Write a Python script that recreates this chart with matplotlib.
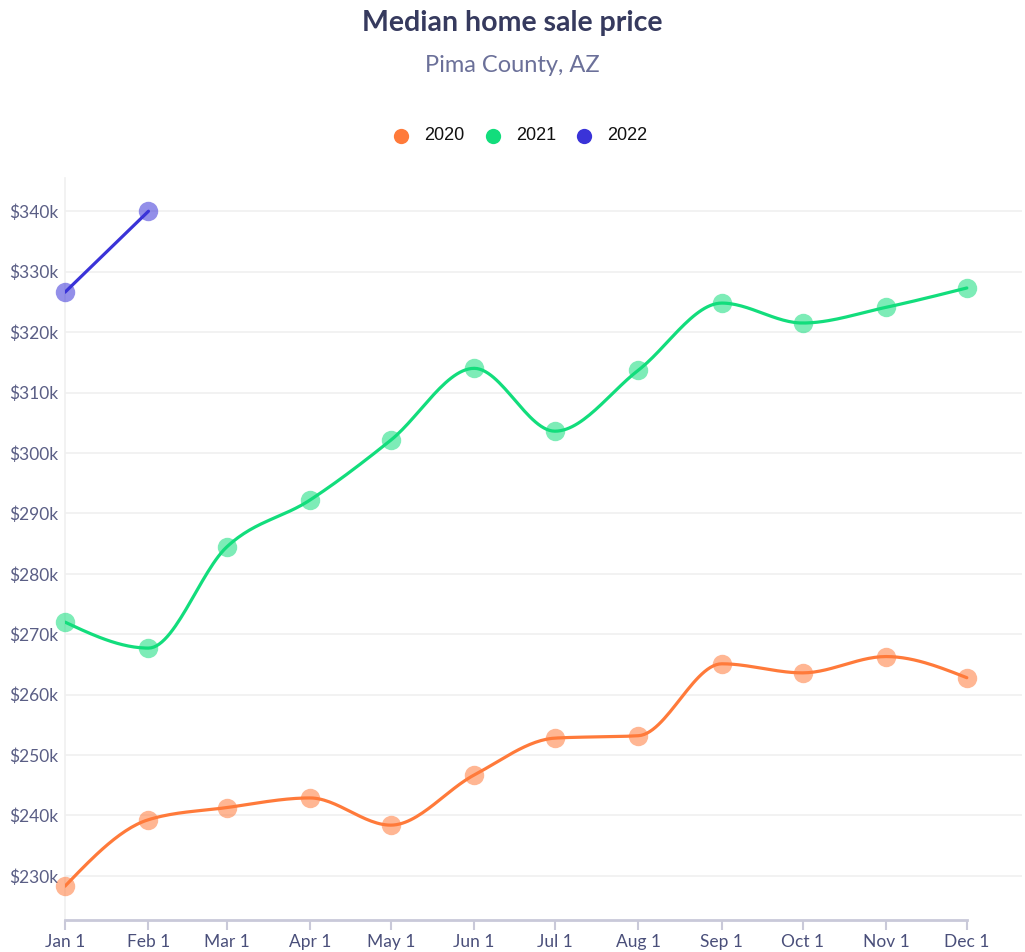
import matplotlib
matplotlib.use('Agg')
import matplotlib.pyplot as plt
import matplotlib.dates as mdates
import numpy as np
import datetime as dt


# chart data (median sale price, in $k)
months = ['Jan 1', 'Feb 1', 'Mar 1', 'Apr 1', 'May 1', 'Jun 1',
          'Jul 1', 'Aug 1', 'Sep 1', 'Oct 1', 'Nov 1', 'Dec 1']
price_2020 = [228.3, 239.3, 241.3, 242.9, 238.4, 246.7,
              252.8, 253.2, 265.1, 263.6, 266.3, 262.8]
price_2021 = [272.0, 267.7, 284.4, 292.2, 302.1, 314.0,
              303.6, 313.7, 324.8, 321.5, 324.1, 327.3]
price_2022 = [326.6, 340.0]
y_ticks = [230, 240, 250, 260, 270, 280, 290, 300, 310, 320, 330, 340]

colors = {'2020': '#ff7a3a', '2021': '#12dd7c', '2022': '#3a33d8'}


# monotone cubic curve through the points (like d3 curveMonotoneX)
def monotone(x, y, n=30):
    x = np.asarray(x, float)
    y = np.asarray(y, float)
    if len(x) < 3:
        return x, y
    h = np.diff(x)
    s = np.diff(y) / h
    m = np.zeros(len(x))
    for i in range(1, len(x) - 1):
        if s[i - 1] * s[i] <= 0:
            m[i] = 0
        else:
            p = (s[i - 1] * h[i] + s[i] * h[i - 1]) / (h[i - 1] + h[i])
            m[i] = np.sign(s[i - 1]) * min(abs(s[i - 1]), abs(s[i]), 0.5 * abs(p)) * 2
    m[0] = (3 * s[0] - m[1]) / 2
    m[-1] = (3 * s[-1] - m[-2]) / 2
    xs, ys = [], []
    for i in range(len(x) - 1):
        t = np.linspace(0, 1, n)
        h00 = 2 * t**3 - 3 * t**2 + 1
        h10 = t**3 - 2 * t**2 + t
        h01 = -2 * t**3 + 3 * t**2
        h11 = t**3 - t**2
        xs.extend(x[i] + t * h[i])
        ys.extend(h00 * y[i] + h10 * h[i] * m[i] + h01 * y[i + 1] + h11 * h[i] * m[i + 1])
    return np.array(xs), np.array(ys)


dates = [dt.date(2020, i + 1, 1) for i in range(12)]
xnum = mdates.date2num(dates)

fig = plt.figure(figsize=(10.25, 9.52), dpi=100)
ax = fig.add_axes([65 / 1025, 1 - 920 / 952, (1022 - 65) / 1025, (920 - 178) / 952])

series = [('2020', price_2020), ('2021', price_2021), ('2022', price_2022)]
for name, vals in series:
    xs, ys = monotone(xnum[:len(vals)], vals)
    ax.plot(xs, ys, color=colors[name], lw=2.3, zorder=3, solid_capstyle='round')
    ax.plot(xnum[:len(vals)], vals, 'o', color=colors[name], alpha=0.55,
            ms=14, mec='none', zorder=4, clip_on=False)

ax.set_xlim(xnum[0], xnum[0] + 355.5)
ax.set_ylim(222.7, 345.5)

ax.set_yticks(y_ticks)
ax.set_yticklabels(['$' + str(v) + 'k' for v in y_ticks])
ax.set_xticks(xnum)
ax.set_xticklabels(months)

ax.grid(axis='y', color='#f0f0f0', lw=1.2)
ax.set_axisbelow(True)

for side in ['top', 'right']:
    ax.spines[side].set_visible(False)
ax.spines['left'].set_color('#f0f0f0')
ax.spines['left'].set_linewidth(1.2)
ax.spines['bottom'].set_color('#c9c9d9')
ax.spines['bottom'].set_linewidth(2)
ax.spines['bottom'].set_bounds(xnum[0], xnum[-1])

ax.tick_params(axis='y', length=0, pad=5, labelsize=12.5, labelcolor='#5a5e85')
ax.tick_params(axis='x', length=7, width=1.5, color='#c9c9d9', pad=3,
               labelsize=12.5, labelcolor='#4a4f7a')
for lbl in ax.get_xticklabels() + ax.get_yticklabels():
    lbl.set_family('Lato')

fig.text(0.5, 1 - 23 / 952, 'Median home sale price', ha='center', va='center',
         fontsize=20.5, fontweight='bold', family='Lato', color='#363a5e')
fig.text(0.5, 1 - 65 / 952, 'Pima County, AZ', ha='center', va='center',
         fontsize=17, family='Lato', color='#6b7099')

# legend row
leg_x = [401, 493, 584]
for (name, vals), lx in zip(series, leg_x):
    fig.lines.append(plt.Line2D([lx / 1025], [1 - 136 / 952], marker='o', ms=11,
                                color=colors[name], mec='none',
                                transform=fig.transFigure))
    fig.text((lx + 23) / 1025, 1 - 136 / 952, name, ha='left', va='center',
             fontsize=13, family='Liberation Sans', color='#111111')

fig.savefig('out.png', dpi=100)
